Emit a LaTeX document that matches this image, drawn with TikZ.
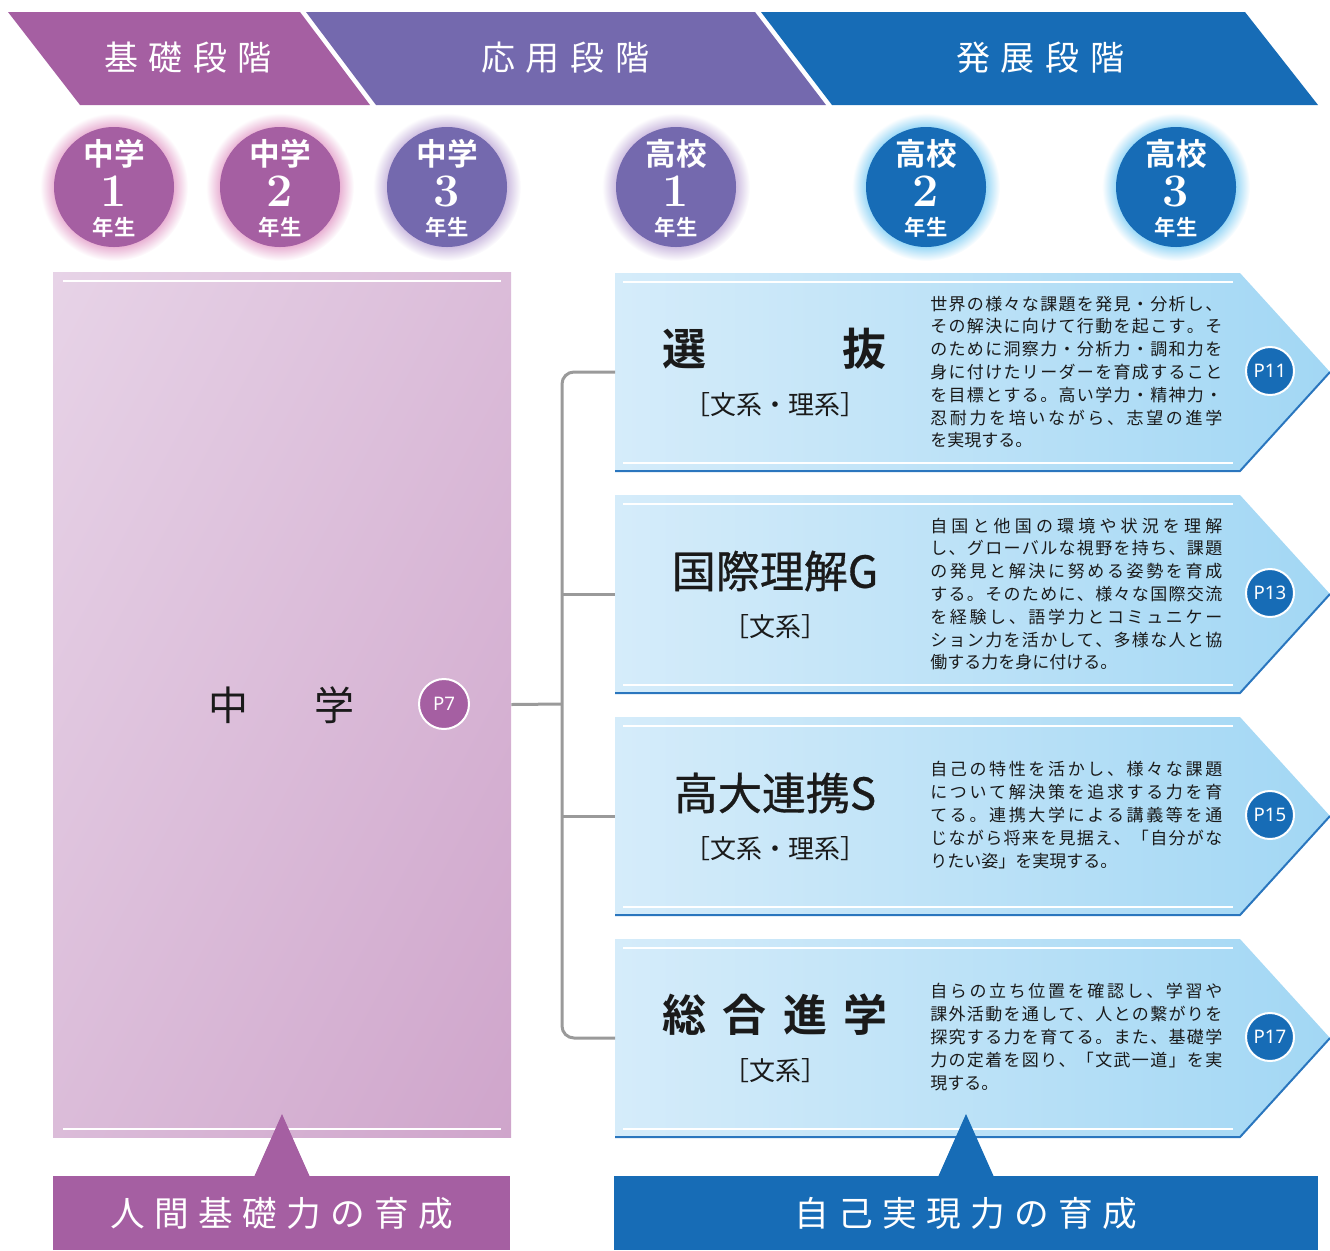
\documentclass[tikz,border=0pt]{standalone}
\usepackage{fontspec}
\usetikzlibrary{shadings}
\newfontfamily\jp[BoldFont={Noto Sans CJK JP Bold}]{Noto Sans CJK JP}
\newfontfamily\jpm[FakeBold=0.7]{Noto Sans CJK JP}
\newfontfamily\nsans{Noto Sans}
\definecolor{pur}{HTML}{A55FA2}
\definecolor{vio}{HTML}{7469AE}
\definecolor{blu}{HTML}{176CB6}
\definecolor{gP}{HTML}{E8AFD2}
\definecolor{gV}{HTML}{CBBADF}
\definecolor{gB}{HTML}{96D6F6}
\definecolor{lnk}{HTML}{9A9A9A}
\definecolor{pnlA}{HTML}{D5ECFA}
\definecolor{pnlB}{HTML}{A2D7F4}
\definecolor{boxA}{HTML}{E7D3E7}
\definecolor{boxM}{HTML}{DBBCD9}
\definecolor{boxB}{HTML}{CFA5CB}
\definecolor{edgeb}{HTML}{2A76BE}
\definecolor{ink}{HTML}{1A1A1A}
\pgfdeclareradialshading{glowP}{\pgfpoint{0bp}{0bp}}{color(0bp)=(gP); color(20bp)=(gP); color(25bp)=(white); color(50bp)=(white)}
\pgfdeclareradialshading{glowV}{\pgfpoint{0bp}{0bp}}{color(0bp)=(gV); color(20bp)=(gV); color(25bp)=(white); color(50bp)=(white)}
\pgfdeclareradialshading{glowB}{\pgfpoint{0bp}{0bp}}{color(0bp)=(gB); color(20bp)=(gB); color(25bp)=(white); color(50bp)=(white)}
\makeatletter
\newcommand\spread[1]{\hbox to 219pt{\sp@fa#1\relax}}
\def\sp@fa#1{#1\sp@ra}
\def\sp@ra#1{\ifx\relax#1\else\hskip 0pt plus 1fil\relax#1\expandafter\sp@ra\fi}
\newcommand\sptext[2]{\def\sp@k{#1}\sp@fb#2\relax}
\def\sp@fb#1{#1\sp@rb}
\def\sp@rb#1{\ifx\relax#1\else\kern\sp@k\relax#1\expandafter\sp@rb\fi}
\makeatother
\begin{document}
\begin{tikzpicture}[x=0.75pt,y=-0.75pt,
  conn/.style={draw=lnk, line width=2.25pt},
  bandtxt/.style={text=white, inner sep=0, font={\jp\fontsize{25.5}{26}\selectfont}},
  yearc/.style={circle, minimum size=90pt, inner sep=0},
  ytop/.style={text=white, inner sep=0, font={\jp\bfseries\fontsize{23}{23}\selectfont}},
  ynum/.style={text=white, inner sep=0, font={\bfseries\fontsize{35}{35}\selectfont}},
  ybot/.style={text=white, inner sep=0, font={\jp\bfseries\fontsize{16}{16}\selectfont}},
  ttl/.style={text=ink, inner sep=0, font={\jpm\fontsize{33}{34}\selectfont}},
  ttlb/.style={text=ink, inner sep=0, font={\jp\bfseries\fontsize{33}{34}\selectfont}},
  sub/.style={text=ink, inner sep=0, font={\jp\fontsize{19.5}{20}\selectfont}},
  desc/.style={text=ink, inner sep=0, anchor=west, align=left, font={\jp\fontsize{12.75}{17.1}\selectfont}},
  pc/.style={circle, draw=white, line width=1.5pt, fill=blu, text=white, minimum size=36pt, inner sep=0, font={\nsans\fontsize{14}{14}\selectfont}},
  btm/.style={text=white, inner sep=0, minimum height=55.5pt, font={\jp\fontsize{26}{26}\selectfont}}
]
\useasboundingbox (0,0) rectangle (1330,1250);

% ---- top banner
\fill[pur] (8,12) -- (300,12) -- (370,105) -- (80,105) -- cycle;
\fill[vio] (306,12) -- (755,12) -- (826,105) -- (376,105) -- cycle;
\fill[blu] (761,12) -- (1245,12) -- (1318,105) -- (832,105) -- cycle;
\node[bandtxt] (b1) at (188,58) {\sptext{8pt}{基礎段階}};
\node[bandtxt] (b2) at (565,58) {\sptext{8pt}{応用段階}};
\node[bandtxt] (b3) at (1040,58) {\sptext{8pt}{発展段階}};

% ---- year circles
\foreach \x/\c/\g/\t/\n [count=\i] in {114/pur/glowP/中学/1, 280/pur/glowP/中学/2, 447/vio/glowV/中学/3, 676/vio/glowV/高校/1, 926/blu/glowB/高校/2, 1176/blu/glowB/高校/3}{
  \shade[shading=\g] (\x,187) circle (55.5pt);
  \node[yearc, fill=\c] (yc\i) at (\x,187) {};
  \node[ytop] (yt\i) at (\x,154) {\t};
  \node[ynum] (yn\i) at (\x,191) {\n};
  \node[ybot] (yb\i) at (\x,227) {年生};
}

% ---- left box
\node[rectangle, inner sep=0, minimum width=343.5pt, minimum height=648.75pt,
      upper left=boxA, upper right=boxM, lower left=boxM, lower right=boxB] (mbox) at (282,704.5) {};
\draw[white, line width=1.5pt] (63,281) -- (501,281);
\draw[white, line width=1.5pt] (63,1129) -- (501,1129);
\node[text=ink, inner sep=0, font={\jp\fontsize{30}{30}\selectfont}] (mt) at (281.5,705) {\sptext{50pt}{中学}};
\node[pc, fill=pur, minimum size=37.5pt] (p7) at (444,704) {P7};

% ---- panels
\foreach \t [count=\i] in {273,495,717,939}{
  \shade[left color=pnlA, right color=pnlB] (615,\t) -- (1240,\t) -- (1330,\t+99) -- (1240,\t+198) -- (615,\t+198) -- cycle;
  \draw[edgeb, line width=1.5pt] (615,\t+198) -- (1240,\t+198) -- (1330,\t+99);
  \draw[white, line width=1.5pt] (623,\t+9) -- (1233,\t+9);
  \draw[white, line width=1.5pt] (623,\t+190) -- (1233,\t+190);
  \coordinate (pw\i) at (615,\t+99);
}

% ---- connectors
\coordinate (jn) at (562,704);
\draw[conn, rounded corners=9pt] (pw1) -| (jn) |- (pw4);
\draw[conn] (mbox.east) -- (jn);
\draw[conn] (pw2 -| jn) -- (pw2);
\draw[conn] (pw3 -| jn) -- (pw3);

% ---- panel titles
\node[ttlb] (t1a) at (684,349) {選};
\node[ttlb] (t1b) at (864,349) {抜};
\node[sub] (s1) at (775,405) {［文系・理系］};
\node[ttl] (t2) at (775,571) {国際理解G};
\node[sub] (s2) at (775,627) {［文系］};
\node[ttl] (t3) at (775,793) {高大連携S};
\node[sub] (s3) at (775,849) {［文系・理系］};
\node[ttlb] (t4) at (775,1015) {\sptext{12.4pt}{総合進学}};
\node[sub] (s4) at (775,1071) {［文系］};

% ---- descriptions
\node[desc] (d1) at (930,372) {\spread{世界の様々な課題を発見・分析し、}\\
\spread{その解決に向けて行動を起こす。そ}\\
\spread{のために洞察力・分析力・調和力を}\\
\spread{身に付けたリーダーを育成すること}\\
\spread{を目標とする。高い学力・精神力・}\\
\spread{忍耐力を培いながら、志望の進学}\\
を実現する。};
\node[desc] (d2) at (930,594) {\spread{自国と他国の環境や状況を理解}\\
\spread{し、グローバルな視野を持ち、課題}\\
\spread{の発見と解決に努める姿勢を育成}\\
\spread{する。そのために、様々な国際交流}\\
\spread{を経験し、語学力とコミュニケー}\\
\spread{ション力を活かして、多様な人と協}\\
働する力を身に付ける。};
\node[desc] (d3) at (930,815) {\spread{自己の特性を活かし、様々な課題}\\
\spread{について解決策を追求する力を育}\\
\spread{てる。連携大学による講義等を通}\\
\spread{じながら将来を見据え、「自分がな}\\
りたい姿」を実現する。};
\node[desc] (d4) at (930,1037) {\spread{自らの立ち位置を確認し、学習や}\\
\spread{課外活動を通して、人との繋がりを}\\
\spread{探究する力を育てる。また、基礎学}\\
\spread{力の定着を図り、「文武一道」を実}\\
現する。};

% ---- page circles
\node[pc] (p11) at (1270,371) {P11};
\node[pc] (p13) at (1270,593) {P13};
\node[pc] (p15) at (1270,815) {P15};
\node[pc] (p17) at (1270,1037) {P17};

% ---- bottom
\fill[pur] (282,1114) -- (310,1177) -- (254,1177) -- cycle;
\fill[blu] (966,1114) -- (994,1177) -- (938,1177) -- cycle;
\node[btm, fill=pur, minimum width=342.75pt] (bl) at (281.5,1213) {\sptext{7pt}{人間基礎力の育成}};
\node[btm, fill=blu, minimum width=528pt] (br) at (966,1213) {\sptext{7pt}{自己実現力の育成}};
\end{tikzpicture}
\end{document}
